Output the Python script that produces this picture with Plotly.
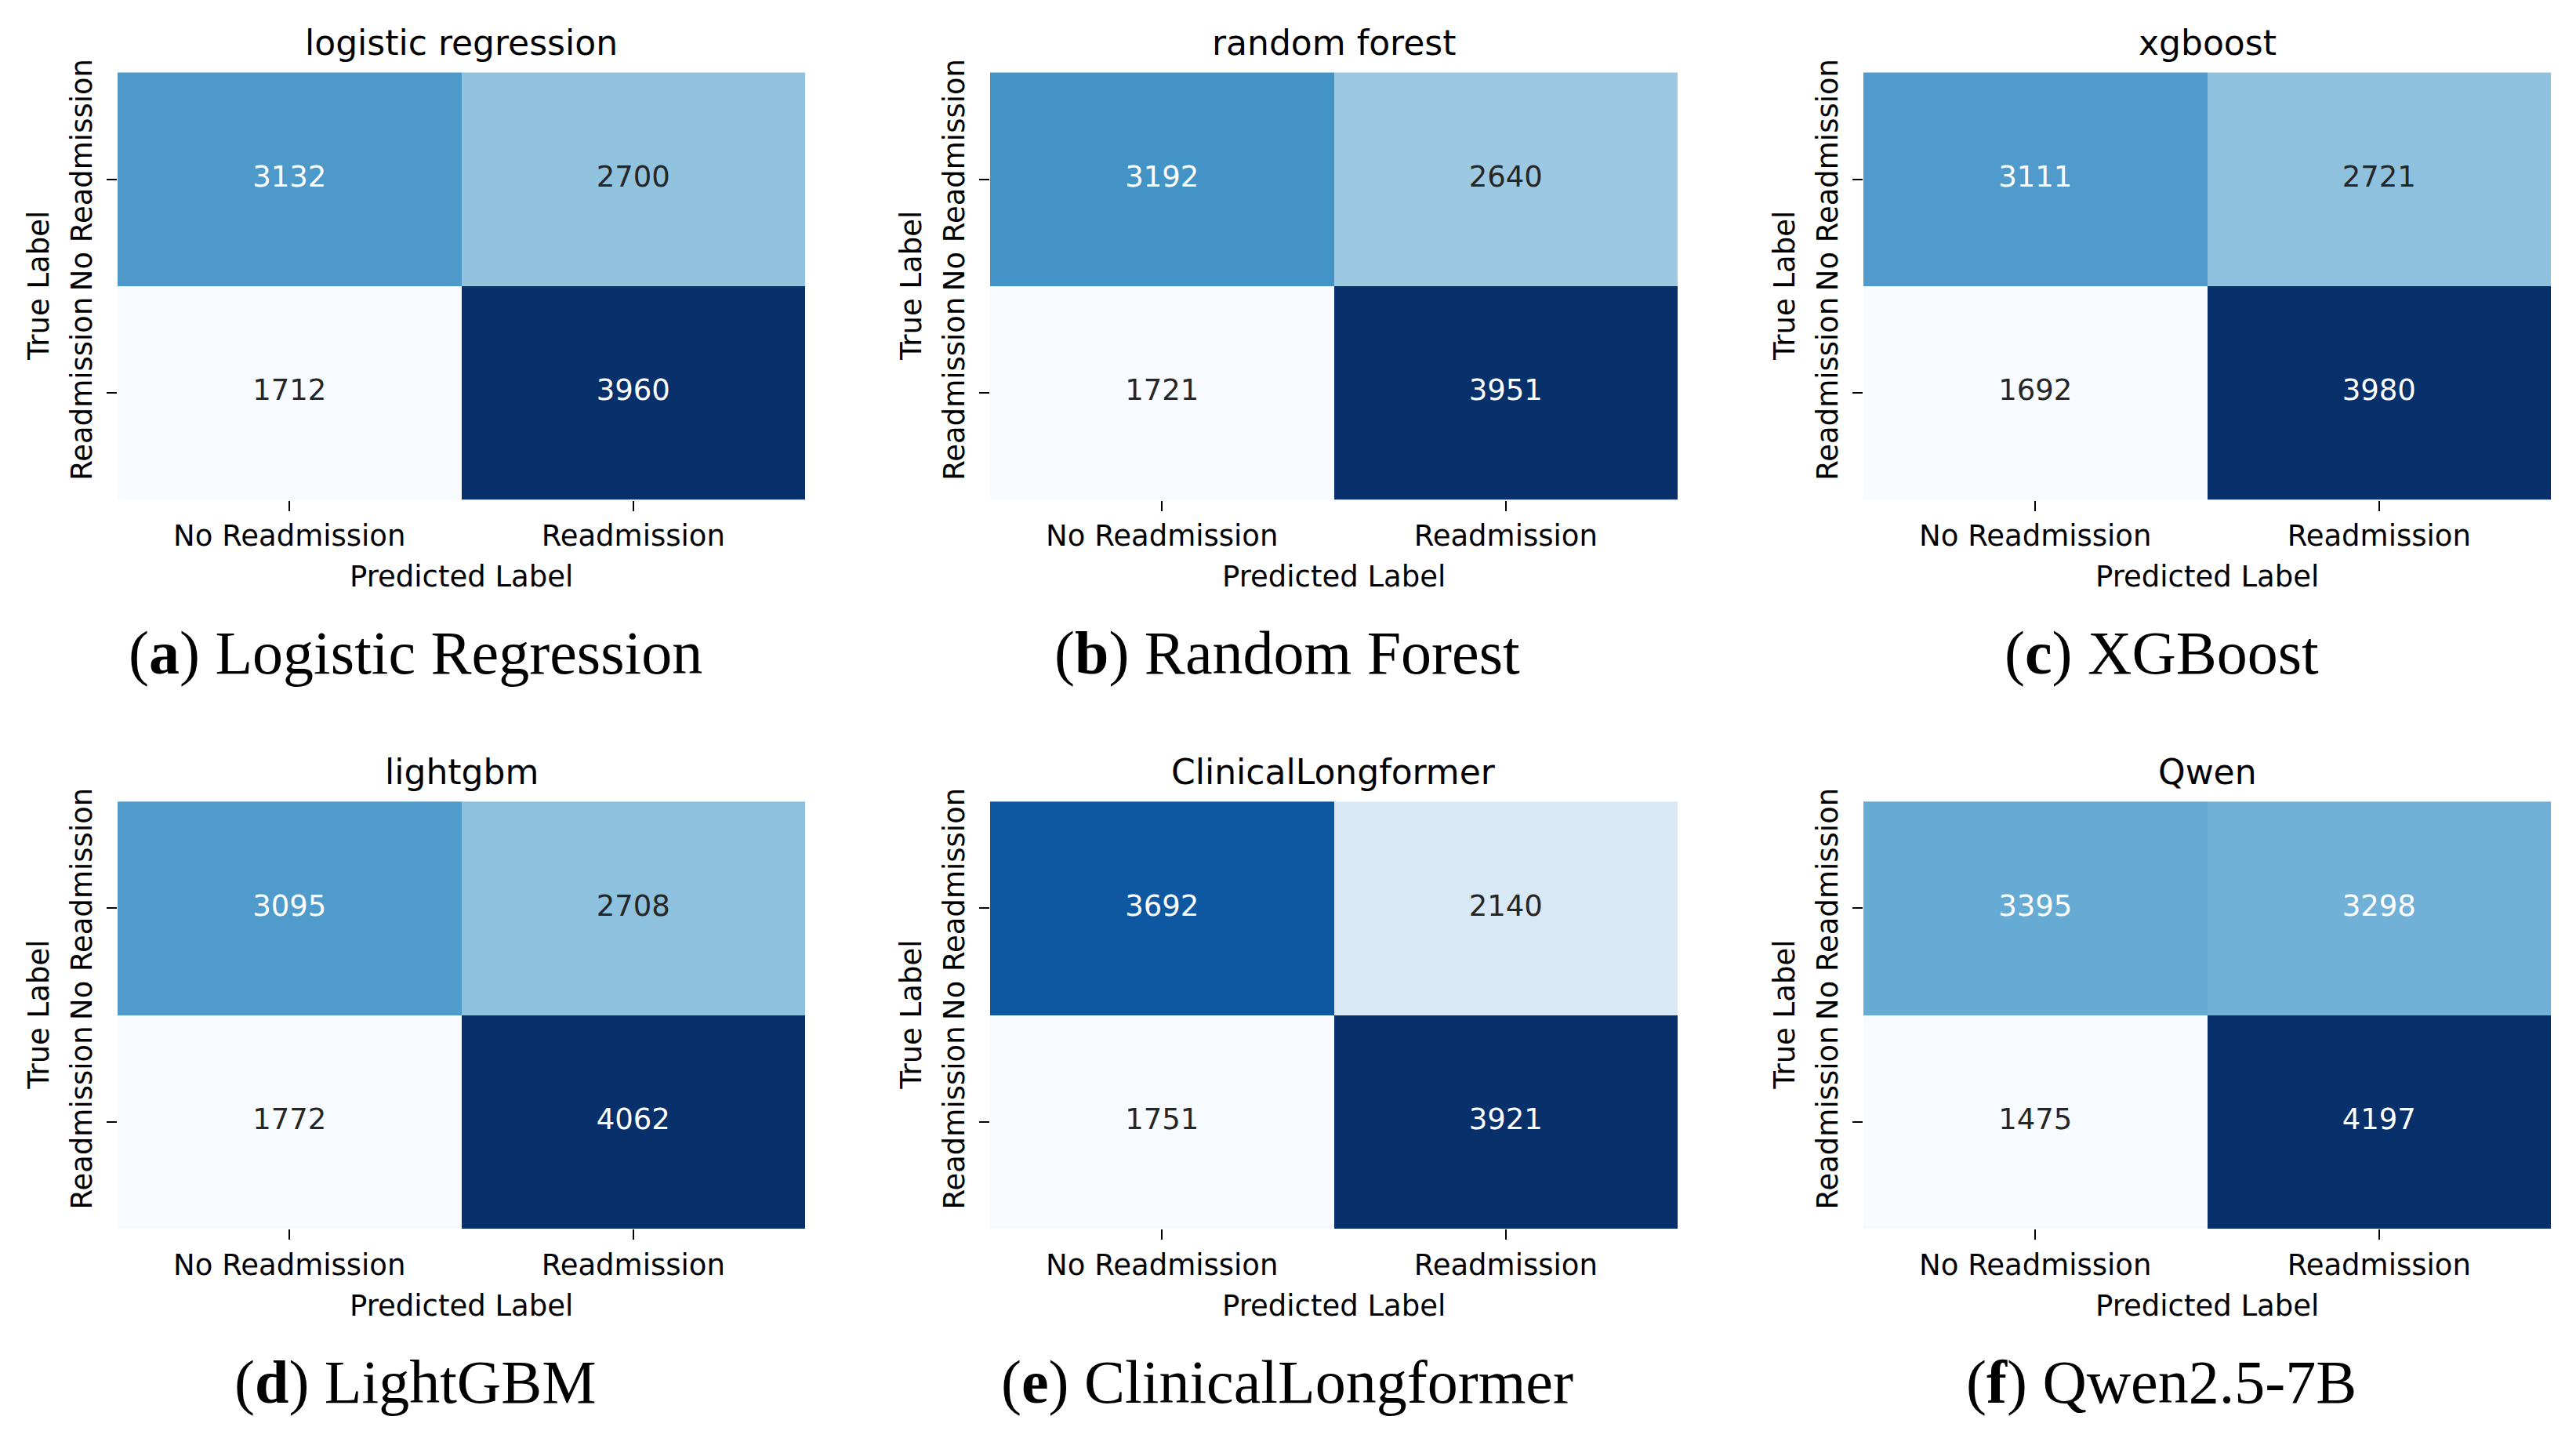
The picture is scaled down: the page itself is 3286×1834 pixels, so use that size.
import plotly.graph_objects as go

# ---------------- data ----------------
model_titles = ["logistic regression", "random forest", "xgboost",
                "lightgbm", "ClinicalLongformer", "Qwen"]
captions = ["(<b>a</b>) Logistic Regression", "(<b>b</b>) Random Forest",
            "(<b>c</b>) XGBoost", "(<b>d</b>) LightGBM",
            "(<b>e</b>) ClinicalLongformer", "(<b>f</b>) Qwen2.5-7B"]
class_labels = ["No Readmission", "Readmission"]

cm_logistic = [[3132, 2700], [1712, 3960]]
cm_random_forest = [[3192, 2640], [1721, 3951]]
cm_xgboost = [[3111, 2721], [1692, 3980]]
cm_lightgbm = [[3095, 2708], [1772, 4062]]
cm_clinical = [[3692, 2140], [1751, 3921]]
cm_qwen = [[3395, 3298], [1475, 4197]]
matrices = [cm_logistic, cm_random_forest, cm_xgboost,
            cm_lightgbm, cm_clinical, cm_qwen]

# ---------------- style ----------------
W, H = 3286, 1834
BLUES = ["#f7fbff", "#deebf7", "#c6dbef", "#9ecae1", "#6baed6",
         "#4292c6", "#2171b5", "#08519c", "#08306b"]
blues_scale = [[i / 8, c] for i, c in enumerate(BLUES)]
SANS = "DejaVu Sans"
SERIF = "Liberation Serif"
FS = 37
TFS = 44
CFS = 78

col_px = [(150, 1027), (1263, 2140), (2377, 3254)]
row_px = [(77, 627), (1015, 1565)]


def hex2rgb(h):
    h = h.lstrip("#")
    return [int(h[i:i + 2], 16) / 255 for i in (0, 2, 4)]


def blues_at(t):
    t = min(max(t, 0), 1) * 8
    i = min(int(t), 7)
    f = t - i
    a, b = hex2rgb(BLUES[i]), hex2rgb(BLUES[i + 1])
    return [a[k] + (b[k] - a[k]) * f for k in range(3)]


def luminance(rgb):
    out = []
    for c in rgb:
        out.append(c / 12.92 if c <= 0.03928 else ((c + 0.055) / 1.055) ** 2.4)
    return 0.2126 * out[0] + 0.7152 * out[1] + 0.0722 * out[2]


def px_x(x):
    return x / W


def px_y(y):
    return 1 - y / H


fig = go.Figure()
annotations = []
layout_axes = {}

for i, (m, title, cap) in enumerate(zip(matrices, model_titles, captions)):
    r, c = divmod(i, 3)
    x0, x1 = col_px[c]
    y0, y1 = row_px[r]
    xa = "x" if i == 0 else f"x{i + 1}"
    ya = "y" if i == 0 else f"y{i + 1}"
    xkey = "xaxis" if i == 0 else f"xaxis{i + 1}"
    ykey = "yaxis" if i == 0 else f"yaxis{i + 1}"

    # colour follows the row-normalised rates, annotations show counts
    norm = [[v / sum(row) for v in row] for row in m]
    flat = [v for row in norm for v in row]
    zmin, zmax = min(flat), max(flat)

    fig.add_trace(go.Heatmap(
        z=norm, x=class_labels, y=class_labels, xaxis=xa, yaxis=ya,
        colorscale=blues_scale, zmin=zmin, zmax=zmax, showscale=False,
        hoverinfo="skip", xgap=0, ygap=0))

    tx, ty, tt, tc = [], [], [], []
    for ri, row in enumerate(m):
        for ci, v in enumerate(row):
            tx.append(class_labels[ci])
            ty.append(class_labels[ri])
            tt.append(str(v))
            lum = luminance(blues_at((norm[ri][ci] - zmin) / (zmax - zmin)))
            tc.append("#262626" if lum > 0.408 else "#ffffff")
    fig.add_trace(go.Scatter(
        x=tx, y=ty, text=tt, mode="text", xaxis=xa, yaxis=ya,
        textposition="middle center",
        textfont=dict(family=SANS, size=FS, color=tc),
        hoverinfo="skip", showlegend=False))

    common = dict(type="category", showgrid=False, zeroline=False,
                  showline=False, ticks="outside", ticklen=13, tickwidth=2,
                  tickcolor="#000000",
                  tickfont=dict(family=SANS, size=FS, color="#000000"),
                  fixedrange=True)
    layout_axes[xkey] = dict(domain=[px_x(x0), px_x(x1)], anchor=ya,
                             range=[-0.5, 1.5], **common)
    layout_axes[ykey] = dict(domain=[px_y(y1), px_y(y0)], anchor=xa,
                             range=[1.5, -0.5], tickangle=-90,
                             ticklabelstandoff=4, **common)

    xc = (x0 + x1) / 2
    yc = (y0 + y1) / 2
    # subplot title
    annotations.append(dict(text=title, x=px_x(xc), y=px_y(y0 - 38),
                            xref="paper", yref="paper", showarrow=False,
                            xanchor="center", yanchor="middle",
                            font=dict(family=SANS, size=TFS, color="#000000")))
    # x axis title
    annotations.append(dict(text="Predicted Label", x=px_x(xc),
                            y=px_y(y1 + 99), xref="paper", yref="paper",
                            showarrow=False, xanchor="center",
                            yanchor="middle",
                            font=dict(family=SANS, size=FS, color="#000000")))
    # y axis title
    annotations.append(dict(text="True Label", x=px_x(x0 - 100), y=px_y(yc),
                            xref="paper", yref="paper", showarrow=False,
                            xanchor="center", yanchor="middle", textangle=-90,
                            font=dict(family=SANS, size=FS, color="#000000")))
    # caption
    cap_x = [530, 1642, 2757][c]
    annotations.append(dict(text=cap, x=px_x(cap_x), y=px_y(y1 + 197),
                            xref="paper", yref="paper", showarrow=False,
                            xanchor="center", yanchor="middle",
                            font=dict(family=SERIF, size=CFS,
                                      color="#000000")))

fig.update_layout(
    width=W, height=H, autosize=False,
    margin=dict(l=0, r=0, t=0, b=0, pad=0),
    paper_bgcolor="#ffffff", plot_bgcolor="#ffffff",
    showlegend=False, annotations=annotations, **layout_axes)

fig.write_html("out.html", config={"displayModeBar": False},
               post_script="document.body.style.margin='0';"
                           "document.body.style.overflow='hidden';")
